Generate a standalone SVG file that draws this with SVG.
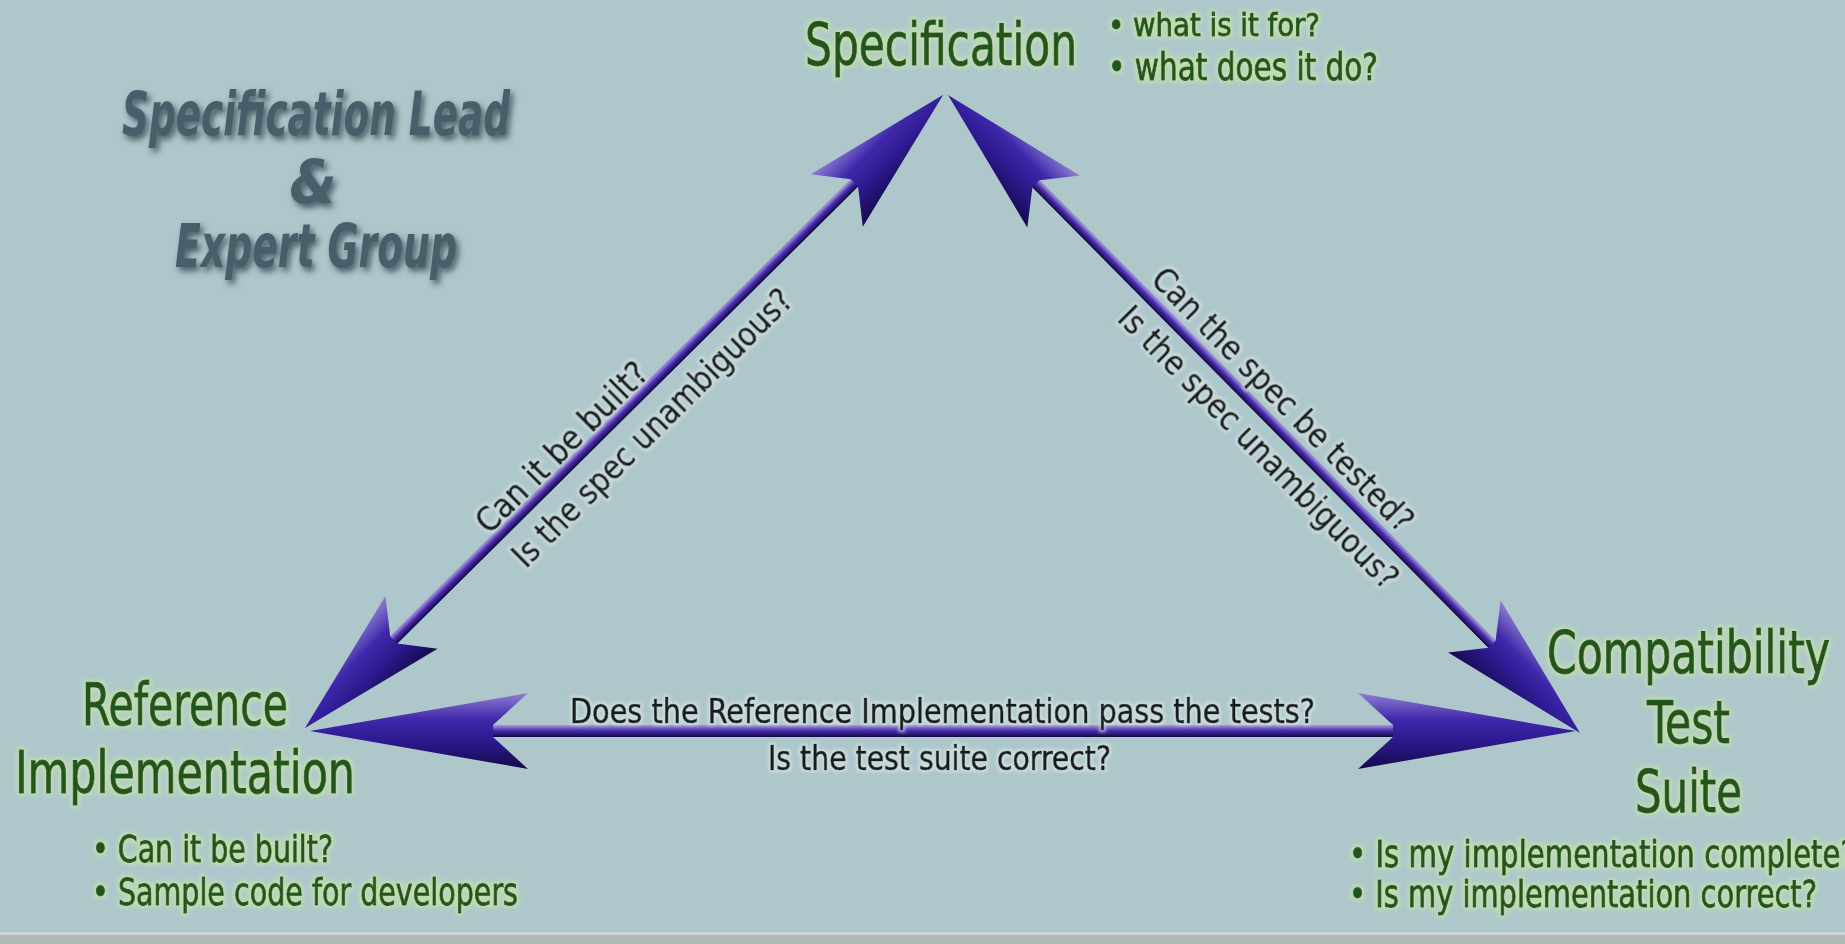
<svg xmlns="http://www.w3.org/2000/svg" width="1845" height="944" viewBox="0 0 1845 944">
  <defs>
    <linearGradient id="headGrad" x1="0" y1="0" x2="0" y2="1">
      <stop offset="0" stop-color="#8f7fd2"/>
      <stop offset="0.35" stop-color="#3f27aa"/>
      <stop offset="0.62" stop-color="#2d1a90"/>
      <stop offset="1" stop-color="#140a4c"/>
    </linearGradient>
    <linearGradient id="shaftGrad" x1="0" y1="0" x2="0" y2="1">
      <stop offset="0" stop-color="#ab98dc"/>
      <stop offset="0.45" stop-color="#4a30b0"/>
      <stop offset="1" stop-color="#120840"/>
    </linearGradient>
    <filter id="greenGlow" x="-10%" y="-30%" width="120%" height="160%">
      <feMorphology in="SourceAlpha" operator="dilate" radius="2" result="d"/>
      <feGaussianBlur in="d" stdDeviation="2" result="b"/>
      <feFlood flood-color="#c9e8a4" flood-opacity="0.7"/>
      <feComposite in2="b" operator="in" result="g"/>
      <feMerge><feMergeNode in="g"/><feMergeNode in="SourceGraphic"/></feMerge>
    </filter>
    <filter id="lightGlow" x="-10%" y="-30%" width="120%" height="160%">
      <feMorphology in="SourceAlpha" operator="dilate" radius="2" result="d"/>
      <feGaussianBlur in="d" stdDeviation="1.5" result="b"/>
      <feFlood flood-color="#dfe9ea" flood-opacity="0.6"/>
      <feComposite in2="b" operator="in" result="g"/>
      <feMerge><feMergeNode in="g"/><feMergeNode in="SourceGraphic"/></feMerge>
    </filter>
    <filter id="shadow" x="-10%" y="-30%" width="120%" height="170%">
      <feGaussianBlur in="SourceAlpha" stdDeviation="3" result="b"/>
      <feOffset in="b" dx="3" dy="4" result="o"/>
      <feFlood flood-color="#2b3c44" flood-opacity="0.8"/>
      <feComposite in2="o" operator="in" result="s"/>
      <feGaussianBlur in="SourceGraphic" stdDeviation="0.6" result="t"/>
      <feMerge><feMergeNode in="s"/><feMergeNode in="t"/></feMerge>
    </filter>
    <style>
      .head { font-family: 'Liberation Sans Narrow', 'DejaVu Sans', 'Liberation Sans', sans-serif; font-stretch: condensed; fill: #24551b; stroke: #24551b; stroke-width: 0.9px; }
      .big { font-size: 58px; }
      .bul { font-size: 38px; }
      .q { font-family: 'Liberation Sans Narrow', 'DejaVu Sans', 'Liberation Sans', sans-serif; font-stretch: condensed; fill: #141c1c; stroke: #141c1c; stroke-width: 0.7px; font-size: 34px; }
      .lead { font-family: 'Liberation Sans Narrow', 'DejaVu Sans', 'Liberation Sans', sans-serif; font-stretch: condensed; font-weight: bold; font-style: italic; fill: #465f6a; font-size: 60px; }
      .arrowHead { fill: url(#headGrad); }
      .shaft { fill: url(#shaftGrad); }
    </style>
  </defs>

  <rect x="0" y="0" width="1845" height="944" fill="#aec7cb"/>
  <rect x="0" y="932" width="1845" height="3" fill="#cdd6d6"/>
  <rect x="0" y="935" width="1845" height="9" fill="#b3b9b9"/>

  <g id="connectors">
    <g id="arrow-ref-spec" transform="translate(305,728) rotate(-44.77)">
      <polygon class="arrowHead" points="0,0 150,-37 125,-5 774,-5 749,-37 899,0 749,37 774,5 125,5 150,37"/>
      <rect class="shaft" x="125" y="-5" width="649" height="10"/>
    </g>
    <g id="arrow-spec-cts" transform="translate(948,95) rotate(45.27)">
      <polygon class="arrowHead" points="0,0 150,-37 125,-5 773,-5 748,-37 898,0 748,37 773,5 125,5 150,37"/>
      <rect class="shaft" x="125" y="-5" width="648" height="10"/>
    </g>
    <g id="arrow-ref-cts" transform="translate(310,731)">
      <polygon class="arrowHead" points="0,0 218,-38 183,-6 1083,-6 1048,-38 1266,0 1048,38 1083,6 183,6 218,38"/>
      <rect class="shaft" x="183" y="-6" width="900" height="12"/>
    </g>

    <g id="label-ref-spec" transform="translate(305,728) rotate(-44.77)" filter="url(#lightGlow)">
      <text class="q" x="380" y="-7" text-anchor="middle" textLength="227" lengthAdjust="spacingAndGlyphs">Can it be built?</text>
      <text class="q" x="458" y="43" text-anchor="middle" textLength="379" lengthAdjust="spacingAndGlyphs">Is the spec unambiguous?</text>
    </g>
    <g id="label-spec-cts" transform="translate(948,95) rotate(45.27)" filter="url(#lightGlow)">
      <text class="q" x="452" y="-12" text-anchor="middle" textLength="356" lengthAdjust="spacingAndGlyphs">Can the spec be tested?</text>
      <text class="q" x="469" y="39" text-anchor="middle" textLength="382" lengthAdjust="spacingAndGlyphs">Is the spec unambiguous?</text>
    </g>
    <g id="label-ref-cts" filter="url(#lightGlow)">
      <text class="q" x="570" y="723" font-size="38" textLength="745" lengthAdjust="spacingAndGlyphs">Does the Reference Implementation pass the tests?</text>
      <text class="q" x="768" y="770" font-size="38" textLength="343" lengthAdjust="spacingAndGlyphs">Is the test suite correct?</text>
    </g>
  </g>

  <g id="node-spec-lead" filter="url(#shadow)">
    <text class="lead" x="122" y="135" textLength="388" lengthAdjust="spacingAndGlyphs">Specification Lead</text>
    <text class="lead" x="313" y="203" text-anchor="middle">&amp;</text>
    <text class="lead" x="175" y="267" textLength="282" lengthAdjust="spacingAndGlyphs">Expert Group</text>
  </g>

  <g id="node-specification" filter="url(#greenGlow)">
    <text class="head big" x="805" y="65" textLength="272" lengthAdjust="spacingAndGlyphs">Specification</text>
    <text class="head" x="1108" y="36" font-size="32" textLength="212" lengthAdjust="spacingAndGlyphs">• what is it for?</text>
    <text class="head" x="1108" y="80" font-size="37" textLength="270" lengthAdjust="spacingAndGlyphs">• what does it do?</text>
  </g>

  <g id="node-reference" filter="url(#greenGlow)">
    <text class="head big" x="82" y="725" textLength="206" lengthAdjust="spacingAndGlyphs">Reference</text>
    <text class="head big" x="15" y="793" textLength="340" lengthAdjust="spacingAndGlyphs">Implementation</text>
    <text class="head bul" x="92" y="862" textLength="241" lengthAdjust="spacingAndGlyphs">• Can it be built?</text>
    <text class="head bul" x="92" y="905" textLength="426" lengthAdjust="spacingAndGlyphs">• Sample code for developers</text>
  </g>

  <g id="node-cts" filter="url(#greenGlow)">
    <text class="head big" x="1547" y="673" textLength="283" lengthAdjust="spacingAndGlyphs">Compatibility</text>
    <text class="head big" x="1647" y="743" textLength="83" lengthAdjust="spacingAndGlyphs">Test</text>
    <text class="head big" x="1635" y="812" textLength="107" lengthAdjust="spacingAndGlyphs">Suite</text>
    <text class="head bul" x="1349" y="867" textLength="507" lengthAdjust="spacingAndGlyphs">• Is my implementation complete?</text>
    <text class="head bul" x="1349" y="907" textLength="468" lengthAdjust="spacingAndGlyphs">• Is my implementation correct?</text>
  </g>
</svg>
